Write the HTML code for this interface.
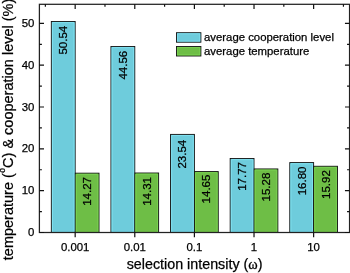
<!DOCTYPE html>
<html><head><meta charset="utf-8"><style>
html,body{margin:0;padding:0;background:#fff;overflow:hidden}
svg{display:block;will-change:transform}
text{font-family:"Liberation Sans",sans-serif;fill:#000;stroke:#000;stroke-width:0.25px}
</style></head><body>
<svg width="350" height="273" viewBox="0 0 350 273">
<rect x="51.32" y="21.47" width="23.85" height="211.03" fill="rgb(110,204,220)" stroke="#111" stroke-width="0.9"/>
<rect x="75.17" y="173.17" width="23.85" height="59.33" fill="rgb(110,190,70)" stroke="#111" stroke-width="0.9"/>
<rect x="110.94" y="46.48" width="23.85" height="186.02" fill="rgb(110,204,220)" stroke="#111" stroke-width="0.9"/>
<rect x="134.78" y="173.00" width="23.85" height="59.50" fill="rgb(110,190,70)" stroke="#111" stroke-width="0.9"/>
<rect x="170.55" y="134.39" width="23.85" height="98.11" fill="rgb(110,204,220)" stroke="#111" stroke-width="0.9"/>
<rect x="194.40" y="171.58" width="23.85" height="60.92" fill="rgb(110,190,70)" stroke="#111" stroke-width="0.9"/>
<rect x="230.17" y="158.53" width="23.85" height="73.97" fill="rgb(110,204,220)" stroke="#111" stroke-width="0.9"/>
<rect x="254.02" y="168.94" width="23.85" height="63.56" fill="rgb(110,190,70)" stroke="#111" stroke-width="0.9"/>
<rect x="289.78" y="162.58" width="23.85" height="69.92" fill="rgb(110,204,220)" stroke="#111" stroke-width="0.9"/>
<rect x="313.63" y="166.26" width="23.85" height="66.24" fill="rgb(110,190,70)" stroke="#111" stroke-width="0.9"/>
<path d="M52.47,231.70V22.62H74.02V231.70" fill="none" stroke="rgb(128,226,240)" stroke-width="0.9"/>
<path d="M76.32,231.70V174.32H97.87V231.70" fill="none" stroke="rgb(122,212,82)" stroke-width="0.9"/>
<path d="M112.09,231.70V47.63H133.63V231.70" fill="none" stroke="rgb(128,226,240)" stroke-width="0.9"/>
<path d="M135.93,231.70V174.15H157.48V231.70" fill="none" stroke="rgb(122,212,82)" stroke-width="0.9"/>
<path d="M171.70,231.70V135.54H193.25V231.70" fill="none" stroke="rgb(128,226,240)" stroke-width="0.9"/>
<path d="M195.55,231.70V172.73H217.10V231.70" fill="none" stroke="rgb(122,212,82)" stroke-width="0.9"/>
<path d="M231.32,231.70V159.68H252.87V231.70" fill="none" stroke="rgb(128,226,240)" stroke-width="0.9"/>
<path d="M255.17,231.70V170.09H276.71V231.70" fill="none" stroke="rgb(122,212,82)" stroke-width="0.9"/>
<path d="M290.93,231.70V163.73H312.48V231.70" fill="none" stroke="rgb(128,226,240)" stroke-width="0.9"/>
<path d="M314.78,231.70V167.41H336.33V231.70" fill="none" stroke="rgb(122,212,82)" stroke-width="0.9"/>
<text x="0" y="0" transform="translate(67.20,25.82) rotate(-90)" text-anchor="end" font-size="11.5">50.54</text>
<text x="0" y="0" transform="translate(91.04,177.02) rotate(-90)" text-anchor="end" font-size="11.5">14.27</text>
<text x="0" y="0" transform="translate(126.81,50.83) rotate(-90)" text-anchor="end" font-size="11.5">44.56</text>
<text x="0" y="0" transform="translate(150.66,177.00) rotate(-90)" text-anchor="end" font-size="11.5">14.31</text>
<text x="0" y="0" transform="translate(186.43,139.74) rotate(-90)" text-anchor="end" font-size="11.5">23.54</text>
<text x="0" y="0" transform="translate(210.27,174.63) rotate(-90)" text-anchor="end" font-size="11.5">14.65</text>
<text x="0" y="0" transform="translate(246.04,162.08) rotate(-90)" text-anchor="end" font-size="11.5">17.77</text>
<text x="0" y="0" transform="translate(269.89,172.69) rotate(-90)" text-anchor="end" font-size="11.5">15.28</text>
<text x="0" y="0" transform="translate(305.66,166.53) rotate(-90)" text-anchor="end" font-size="11.5">16.80</text>
<text x="0" y="0" transform="translate(329.50,170.21) rotate(-90)" text-anchor="end" font-size="11.5">15.92</text>
<rect x="39.4" y="4.3" width="310.15000000000003" height="228.2" fill="none" stroke="#222" stroke-width="1.25"/>
<path d="M39.4,232.50h4.6 M349.55,232.50h-4.6 M39.4,211.59h2.5 M349.55,211.59h-2.5 M39.4,190.68h4.6 M349.55,190.68h-4.6 M39.4,169.76h2.5 M349.55,169.76h-2.5 M39.4,148.85h4.6 M349.55,148.85h-4.6 M39.4,127.94h2.5 M349.55,127.94h-2.5 M39.4,107.02h4.6 M349.55,107.02h-4.6 M39.4,86.11h2.5 M349.55,86.11h-2.5 M39.4,65.20h4.6 M349.55,65.20h-4.6 M39.4,44.29h2.5 M349.55,44.29h-2.5 M39.4,23.38h4.6 M349.55,23.38h-4.6 M75.17,4.3v4.6 M75.17,232.5v4.8 M134.78,4.3v4.6 M134.78,232.5v4.8 M194.40,4.3v4.6 M194.40,232.5v4.8 M254.02,4.3v4.6 M254.02,232.5v4.8 M313.63,4.3v4.6 M313.63,232.5v4.8 M45.36,4.3v2.5 M104.98,4.3v2.5 M164.59,4.3v2.5 M224.21,4.3v2.5 M283.82,4.3v2.5 M343.44,4.3v2.5" stroke="#111" stroke-width="1.2" fill="none"/>
<text x="34.3" y="236.10" text-anchor="end" font-size="11.4">0</text>
<text x="34.3" y="194.28" text-anchor="end" font-size="11.4">10</text>
<text x="34.3" y="152.45" text-anchor="end" font-size="11.4">20</text>
<text x="34.3" y="110.62" text-anchor="end" font-size="11.4">30</text>
<text x="34.3" y="68.80" text-anchor="end" font-size="11.4">40</text>
<text x="34.3" y="26.98" text-anchor="end" font-size="11.4">50</text>
<text x="75.17" y="250.6" text-anchor="middle" font-size="11.4">0.001</text>
<text x="134.78" y="250.6" text-anchor="middle" font-size="11.4">0.01</text>
<text x="194.40" y="250.6" text-anchor="middle" font-size="11.4">0.1</text>
<text x="254.02" y="250.6" text-anchor="middle" font-size="11.4">1</text>
<text x="313.63" y="250.6" text-anchor="middle" font-size="11.4">10</text>
<text x="126.7" y="269.2" font-size="14.3">selection intensity (<tspan font-family="Liberation Serif">ω</tspan>)</text>
<text x="0" y="0" transform="translate(12.7,260.2) rotate(-90)" font-size="14.5">temperature (<tspan dx="0.5" dy="-7.7" font-size="8.5">o</tspan><tspan dy="7.7">C) &amp; cooperation level (%)</tspan></text>
<rect x="176.5" y="32.7" width="24.4" height="9.5" fill="rgb(110,204,220)" stroke="#111" stroke-width="0.9"/>
<rect x="176.5" y="46.5" width="24.4" height="9.5" fill="rgb(110,190,70)" stroke="#111" stroke-width="0.9"/>
<rect x="177.6" y="33.800000000000004" width="22.2" height="7.3" fill="none" stroke="rgb(128,226,240)" stroke-width="0.8"/>
<rect x="177.6" y="47.6" width="22.2" height="7.3" fill="none" stroke="rgb(122,212,82)" stroke-width="0.8"/>
<text x="204" y="41.4" font-size="11.35">average cooperation level</text>
<text x="204" y="54.6" font-size="11.35">average temperature</text>
</svg>
</body></html>
